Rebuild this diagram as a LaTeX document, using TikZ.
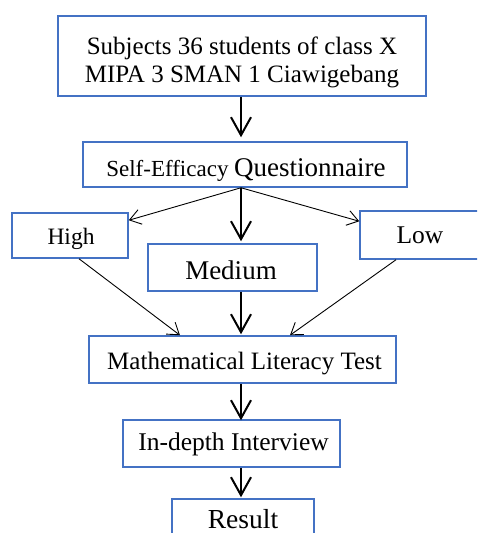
\documentclass[tikz,border=0pt]{standalone}
\usepackage{fontspec}
\setmainfont{Liberation Serif}
\usetikzlibrary{arrows.meta,calc}
\definecolor{boxblue}{HTML}{4472C4}
\tikzset{
  box/.style={draw=boxblue, line width=1.5pt, rectangle, inner sep=0pt},
  lbl/.style={inner sep=0pt, anchor=base},
  thickarrow/.style={line width=2pt, -{Straight Barb[length=18pt,width=20pt,line width=2pt]}},
  thinarrow/.style={line width=0.9pt, -{Straight Barb[length=11pt,width=15pt,line width=0.9pt]}}
}
\begin{document}
\begin{tikzpicture}[x=1pt,y=-1pt]
\useasboundingbox (0,0) rectangle (477,533);
\clip (0,0) rectangle (477,533);
% boxes
\node[box, minimum width=368pt, minimum height=80pt] (b1) at (242,56) {};
\node[box, minimum width=324pt, minimum height=45pt] (b2) at (245,164.5) {};
\node[box, minimum width=116pt, minimum height=45pt] (high) at (70,235.5) {};
\node[box, minimum width=169pt, minimum height=47pt] (med) at (232.5,267.5) {};
\node[box, minimum width=120pt, minimum height=48pt] (low) at (420,235) {};
\node[box, minimum width=307pt, minimum height=47pt] (mlt) at (242.5,359.5) {};
\node[box, minimum width=217pt, minimum height=47pt] (int) at (231.5,443.5) {};
\node[box, minimum width=142pt, minimum height=47pt] (res) at (243,522.5) {};
% labels
\node[lbl, font=\fontsize{25}{28}\selectfont] (b1t) at (242,54) {Subjects 36 students of class X};
\node[lbl, font=\fontsize{25}{28}\selectfont] (b1u) at (242,82) {MIPA 3 SMAN 1 Ciawigebang};
\node[lbl] (b2t) at (246,176) {\fontsize{23}{26}\selectfont Self-Efficacy \fontsize{27}{30}\selectfont Questionnaire};
\node[lbl, font=\fontsize{23.5}{26}\selectfont] (hight) at (71,244) {High};
\node[lbl, font=\fontsize{27}{30}\selectfont] (medt) at (231,279) {Medium};
\node[lbl, font=\fontsize{25.5}{28}\selectfont] (lowt) at (420,243) {Low};
\node[lbl, font=\fontsize{25}{28}\selectfont] (mltt) at (244.5,369) {Mathematical Literacy Test};
\node[lbl, font=\fontsize{25.5}{28}\selectfont] (intt) at (233.5,450) {In-depth Interview};
\node[lbl, font=\fontsize{27.5}{30}\selectfont] (rest) at (243,528) {Result};
% connectors
\draw[thickarrow] ([xshift=-1pt]b1.south) -- ([xshift=-4pt,yshift=4pt]b2.north);
\draw[thickarrow] ([xshift=-4pt]b2.south) -- ([xshift=8.5pt,yshift=2pt]med.north);
\draw[thinarrow] ([xshift=-4pt]b2.south) -- ([yshift=-8pt]high.north east);
\draw[thinarrow] ([xshift=-4pt]b2.south) -- ([yshift=-11pt]low.north west);
\draw[thinarrow] ([xshift=9pt]high.south) -- ([xshift=-62.5pt]mlt.north);
\draw[thinarrow] ([xshift=-24pt]low.south) -- ([xshift=47.5pt]mlt.north);
\draw[thickarrow] ([xshift=8.5pt]med.south) -- ([xshift=-1.5pt,yshift=1pt]mlt.north);
\draw[thickarrow] ([xshift=-1.5pt]mlt.south) -- ([xshift=9.5pt,yshift=-1pt]int.north);
\draw[thickarrow] ([xshift=9.5pt]int.south) -- ([xshift=-2pt,yshift=1pt]res.north);
\end{tikzpicture}
\end{document}
